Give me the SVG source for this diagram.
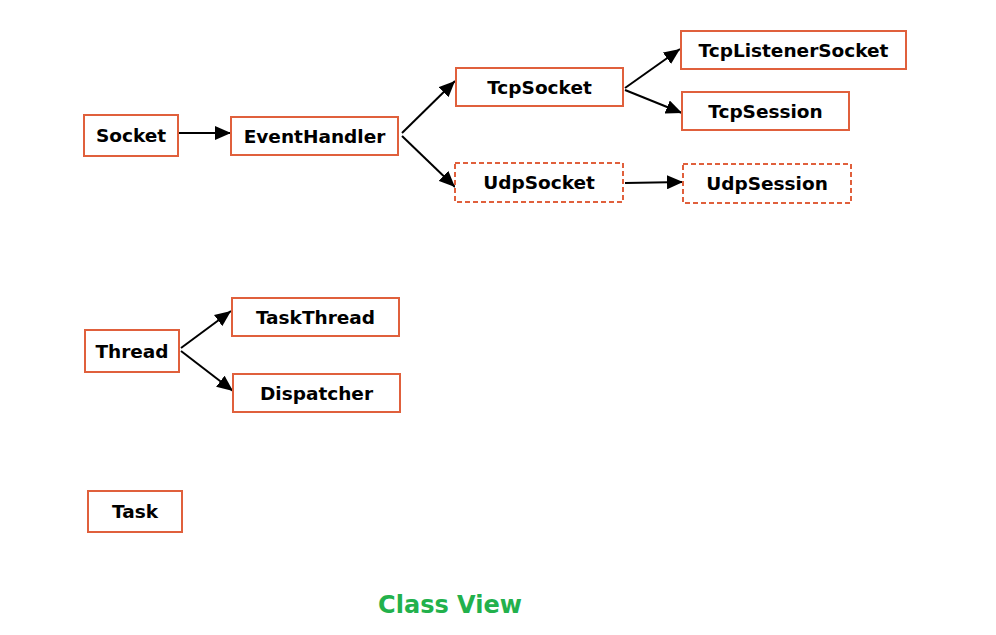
<svg xmlns="http://www.w3.org/2000/svg" width="996" height="635" viewBox="0 0 996 635">
<defs>
<marker id="ah" markerWidth="16" markerHeight="14" viewBox="0 0 16 14" refX="16" refY="7" orient="auto" markerUnits="userSpaceOnUse" >
<path d="M0,0 L16,7 L0,14 z" fill="#000"/>
</marker>
<style>
.b{fill:#fff;stroke:#e0603c;stroke-width:2}
.d{stroke-dasharray:5,3}
.t{font-family:"DejaVu Sans",Verdana,sans-serif;font-weight:bold;font-size:18.5px;fill:#000;text-anchor:middle}
.c{stroke:#000;stroke-width:2;fill:none}
</style>
</defs>
<rect width="996" height="635" fill="#fff"/>
<g id="connectors">
<line class="c" x1="178" y1="133" x2="231" y2="133" marker-end="url(#ah)"/>
<line class="c" x1="402" y1="133" x2="455" y2="81" marker-end="url(#ah)"/>
<line class="c" x1="402" y1="136" x2="455" y2="187" marker-end="url(#ah)"/>
<line class="c" x1="625" y1="88" x2="680" y2="49" marker-end="url(#ah)"/>
<line class="c" x1="625" y1="90" x2="682" y2="113" marker-end="url(#ah)"/>
<line class="c" x1="625" y1="183" x2="683" y2="182" marker-end="url(#ah)"/>
<line class="c" x1="181" y1="348" x2="231" y2="311" marker-end="url(#ah)"/>
<line class="c" x1="181" y1="351" x2="233" y2="391" marker-end="url(#ah)"/>
</g>
<g id="socket"><rect class="b" x="84" y="115" width="94" height="41"/><text class="t" x="131" y="142">Socket</text></g>
<g id="eventhandler"><rect class="b" x="231" y="117" width="167" height="38"/><text class="t" x="314.5" y="143">EventHandler</text></g>
<g id="tcpsocket"><rect class="b" x="456" y="68" width="167" height="38"/><text class="t" x="539.5" y="94">TcpSocket</text></g>
<g id="udpsocket"><rect class="b d" x="455" y="163" width="168" height="39"/><text class="t" x="539" y="189">UdpSocket</text></g>
<g id="tcplistenersocket"><rect class="b" x="681" y="31" width="225" height="38"/><text class="t" x="793.5" y="57">TcpListenerSocket</text></g>
<g id="tcpsession"><rect class="b" x="682" y="92" width="167" height="38"/><text class="t" x="765.5" y="118">TcpSession</text></g>
<g id="udpsession"><rect class="b d" x="683" y="164" width="168" height="39"/><text class="t" x="767" y="190">UdpSession</text></g>
<g id="thread"><rect class="b" x="85" y="330" width="94" height="42"/><text class="t" x="132" y="358">Thread</text></g>
<g id="taskthread"><rect class="b" x="232" y="298" width="167" height="38"/><text class="t" x="315.5" y="324">TaskThread</text></g>
<g id="dispatcher"><rect class="b" x="233" y="374" width="167" height="38"/><text class="t" x="316.5" y="400">Dispatcher</text></g>
<g id="task"><rect class="b" x="88" y="491" width="94" height="41"/><text class="t" x="135" y="518">Task</text></g>
<text x="450" y="613" style="font-family:'DejaVu Sans',Verdana,sans-serif;font-weight:bold;font-size:24px;fill:#22b14c;text-anchor:middle">Class View</text>
</svg>
